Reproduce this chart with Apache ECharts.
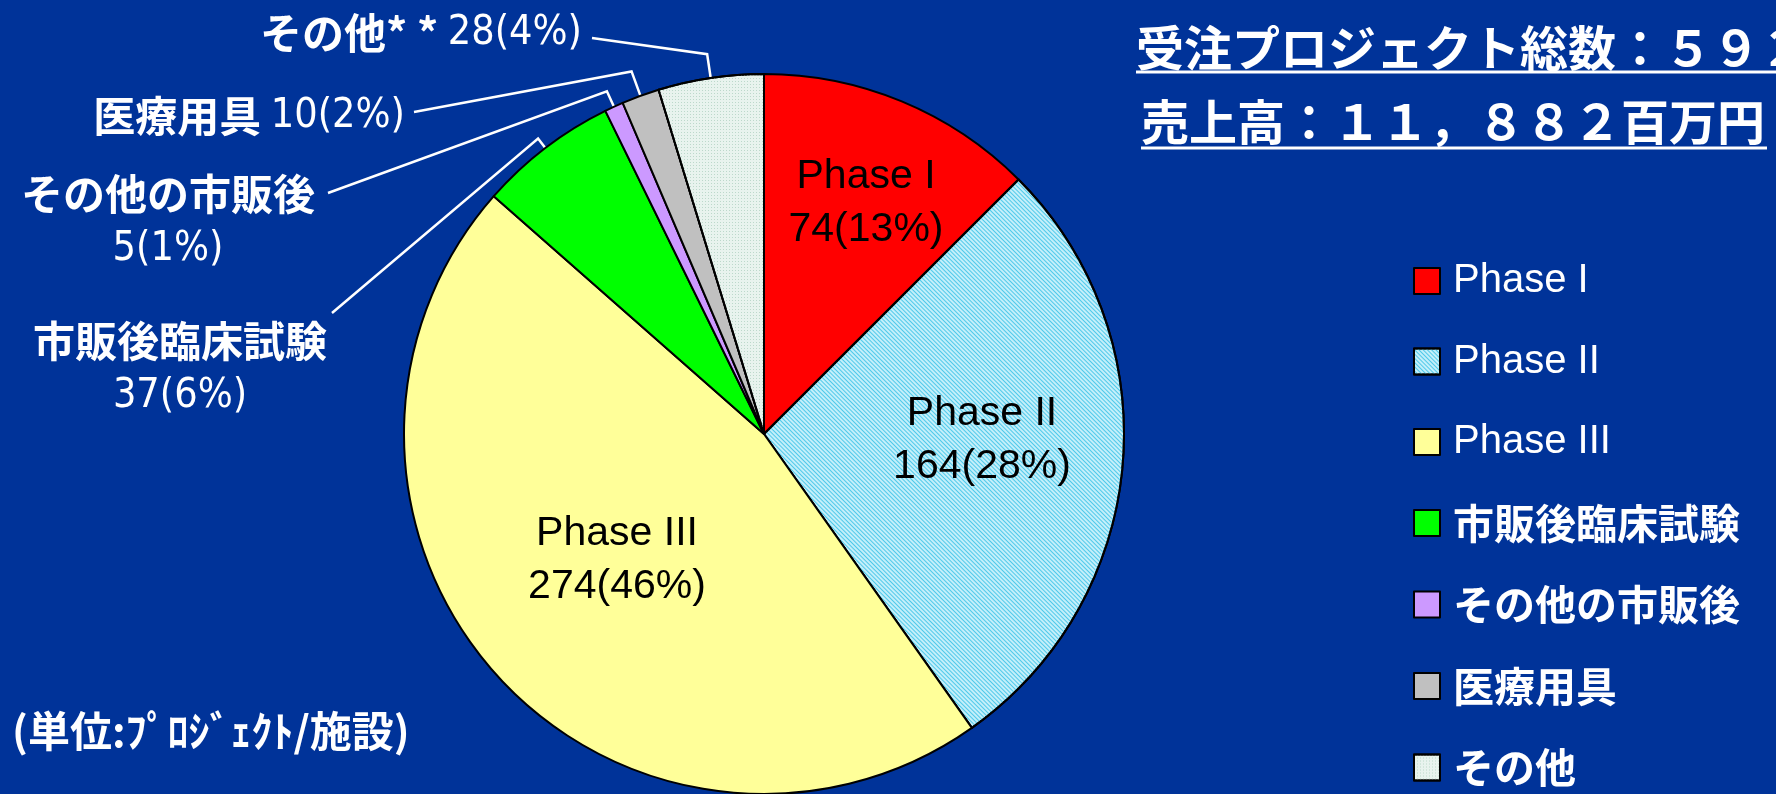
<!DOCTYPE html>
<html>
<head>
<meta charset="utf-8">
<script src="https://cdn.jsdelivr.net/npm/echarts@6/dist/echarts.min.js"></script>
<style>
  html, body { margin: 0; padding: 0; background: #003399; }
  #chart { width: 1776px; height: 794px; }
</style>
</head>
<body>
<div id="chart"></div>
<script>
// data
const categories = ['Phase I', 'Phase II', 'Phase III', '市販後臨床試験', 'その他の市販後', '医療用具', 'その他'];
const projectCounts = [74, 164, 274, 37, 5, 10, 28];
const percentLabels = [13, 28, 46, 6, 1, 2, 4];
const labelNames = ['Phase I', 'Phase II', 'Phase III', '市販後臨床試験', 'その他の市販後', '医療用具', 'その他* *'];
const titleLines = ['受注プロジェクト総数：５９２', '売上高：１１，８８２百万円'];
const unitNote = '(単位:ﾌﾟﾛｼﾞｪｸﾄ/施設)';

// look
const pieCenter = [764, 434];
const sliceColors = ['#ff0000', '#c4effa', '#ffff99', '#00ff00', '#cc99ff', '#c0c0c0', '#e8f3ee'];
const sliceDecals = [
  null,
  { symbol: 'rect', symbolSize: 1, dashArrayX: [1, 0], dashArrayY: [1, 2], rotation: Math.PI / 4, color: '#4fc9ea' },
  null, null, null, null,
  { symbol: 'rect', symbolSize: 1, dashArrayX: [1, 2], dashArrayY: [1, 2], color: '#bcd8cb' }
];
// where each label goes (inside: block centre, outside: anchor + leader line)
const labelPlacement = [
  { inside: true, x: 866, y: 203 },
  { inside: true, x: 982, y: 440 },
  { inside: true, x: 617, y: 560 },
  { x: 180, y: 369, align: 'center', line: 12, end: [332, 313], twoLines: true },
  { x: 168, y: 222, align: 'center', line: 17, end: [328, 193], twoLines: true },
  { x: 405, y: 116, align: 'right', line: 26, end: [414, 112] },
  { x: 582, y: 33, align: 'right', line: 24, end: [592, 38] }
];

const cjkFont = '"Noto Sans CJK JP", sans-serif';
const narrowFont = '"DejaVu Sans Condensed", "Liberation Sans", sans-serif';
const latinFont = '"Liberation Sans", Arial, sans-serif';

const outsideRich = {
  c: { fontFamily: cjkFont, fontWeight: 'bold', fontSize: 42, color: '#fff', lineHeight: 55 },
  d: { fontFamily: narrowFont, fontSize: 41, color: '#fff', lineHeight: 55 }
};

const pieData = categories.map(function (name, i) {
  const p = labelPlacement[i];
  const item = { name: name, value: projectCounts[i], itemStyle: { color: sliceColors[i] } };
  if (sliceDecals[i]) item.itemStyle.decal = sliceDecals[i];
  const valText = projectCounts[i] + '(' + percentLabels[i] + '%)';
  if (p.inside) {
    item.label = {
      position: 'inside',
      formatter: labelNames[i] + '\n' + valText,
      fontFamily: latinFont, fontSize: 41, color: '#000', lineHeight: 53
    };
    item.labelLine = { show: false };
  } else {
    item.label = {
      position: 'outside',
      formatter: '{c|' + labelNames[i] + (p.twoLines ? '}\n' : ' }') + '{d|' + valText + '}',
      rich: outsideRich
    };
    item.labelLine = { show: true, length: p.line, length2: 10 };
  }
  return item;
});

const chart = echarts.init(document.getElementById('chart'));
chart.setOption({
  backgroundColor: '#003399',
  animation: false,
  legend: {
    orient: 'vertical',
    left: 1413,
    top: 261,
    padding: 0,
    icon: 'rect',
    itemWidth: 26,
    itemHeight: 26,
    itemGap: 40.5,
    itemStyle: { borderColor: '#000', borderWidth: 2 },
    formatter: function (name) {
      return /^[\x00-\x7f]+$/.test(name) ? '{p|' + name + '}' : '{j|' + name + '}';
    },
    textStyle: {
      color: '#fff',
      rich: {
        p: { fontFamily: latinFont, fontSize: 40, color: '#fff', lineHeight: 40, padding: [0, 0, 0, 8] },
        j: { fontFamily: cjkFont, fontWeight: 'bold', fontSize: 41, color: '#fff', lineHeight: 40, padding: [0, 0, 0, 8] }
      }
    },
    data: categories
  },
  graphic: [
    { type: 'text', x: 1136, y: 48, style: { text: titleLines[0], font: 'bold 48px "Noto Sans CJK JP"', fill: '#fff', verticalAlign: 'middle' } },
    { type: 'line', shape: { x1: 1136, y1: 72, x2: 1776, y2: 72 }, style: { stroke: '#fff', lineWidth: 3 } },
    { type: 'text', x: 1141, y: 122, style: { text: titleLines[1], font: 'bold 48px "Noto Sans CJK JP"', fill: '#fff', verticalAlign: 'middle' } },
    { type: 'line', shape: { x1: 1141, y1: 148, x2: 1767, y2: 148 }, style: { stroke: '#fff', lineWidth: 3 } },
    { type: 'text', x: 12, y: 731, style: { text: unitNote, font: 'bold 42px "Noto Sans CJK JP"', fill: '#fff', verticalAlign: 'middle' } }
  ],
  series: [{
    type: 'pie',
    center: pieCenter,
    radius: 360,
    startAngle: 90,
    clockwise: true,
    avoidLabelOverlap: false,
    emphasis: { disabled: true },
    itemStyle: { borderColor: '#000', borderWidth: 2 },
    labelLine: { lineStyle: { color: '#fff', width: 2.5 }, minTurnAngle: 0 },
    labelLayout: function (params) {
      const p = labelPlacement[params.dataIndex];
      if (p.inside) {
        return { x: p.x, y: p.y, align: 'center', verticalAlign: 'middle' };
      }
      const edge = params.labelLinePoints[0];
      const dx = edge[0] - pieCenter[0];
      const dy = edge[1] - pieCenter[1];
      const d = Math.sqrt(dx * dx + dy * dy);
      const elbow = [edge[0] + dx / d * p.line, edge[1] + dy / d * p.line];
      return {
        x: p.x, y: p.y, align: p.align, verticalAlign: 'middle',
        labelLinePoints: [edge, elbow, p.end]
      };
    },
    data: pieData
  }]
});
</script>
</body>
</html>
